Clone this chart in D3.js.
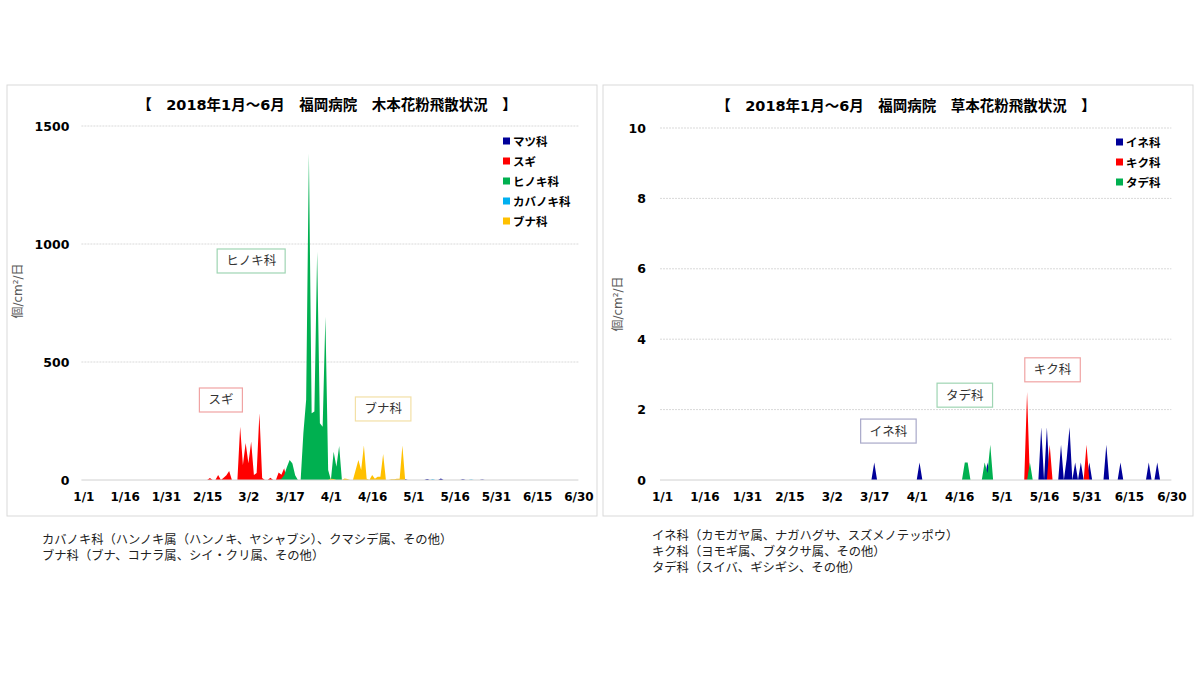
<!DOCTYPE html>
<html>
<head>
<meta charset="utf-8">
<script src="https://cdn.jsdelivr.net/npm/d3@7"></script>
<style>
  body { margin: 0; background: #fff; }
  text { font-family: "DejaVu Sans", "Noto Sans CJK JP", sans-serif; }
</style>
</head>
<body>
<svg id="chart" width="1200" height="675"></svg>
<script>
// ---- data (readings per day, days not listed are 0) ----
const tickLabels = ['1/1', '1/16', '1/31', '2/15', '3/2', '3/17', '4/1', '4/16', '5/1', '5/16', '5/31', '6/15', '6/30']

const woodyNames = ['マツ科', 'スギ', 'ヒノキ科', 'カバノキ科', 'ブナ科']
const woodyColors = ['#000099', '#ff0000', '#00b050', '#00b0f0', '#ffc000']
const woodyTicks = [0, 500, 1000, 1500]

const matsu = [['4/28', 3], ['5/6', 4], ['5/11', 6], ['5/19', 3], ['5/26', 2]]
const sugi = [['2/16', 8], ['2/19', 21], ['2/21', 10], ['2/22', 20], ['2/23', 38], ['2/27', 226], ['2/28', 64],
  ['3/1', 157], ['3/2', 71], ['3/3', 162], ['3/4', 21], ['3/5', 30], ['3/6', 283], ['3/7', 8], ['3/10', 10],
  ['3/13', 32], ['3/14', 22], ['3/15', 50]]
const hinoki = [['3/14', 5], ['3/15', 20], ['3/16', 55], ['3/17', 85], ['3/18', 70], ['3/19', 20],
  ['3/22', 200], ['3/23', 340], ['3/24', 1385], ['3/25', 283], ['3/26', 290], ['3/27', 967], ['3/28', 240],
  ['3/29', 226], ['3/30', 692], ['3/31', 42], ['4/2', 120], ['4/3', 56], ['4/4', 144]]
const kabanoki = [['5/8', 3], ['5/22', 2]]
const buna = [['4/1', 5], ['4/2', 4], ['4/6', 6], ['4/7', 4], ['4/10', 42], ['4/11', 85], ['4/12', 42], ['4/13', 146],
  ['4/14', 5], ['4/16', 21], ['4/17', 5], ['4/18', 14], ['4/19', 14], ['4/20', 110], ['4/23', 3], ['4/24', 3],
  ['4/25', 5], ['4/26', 5], ['4/27', 146]]

const herbNames = ['イネ科', 'キク科', 'タデ科']
const herbColors = ['#000099', '#ff0000', '#00b050']
const herbTicks = [0, 2, 4, 6, 8, 10]

const ine = [['3/17', 0.5], ['4/2', 0.5], ['4/26', 0.5], ['5/15', 1.5], ['5/17', 1.5], ['5/22', 1.0], ['5/24', 0.6],
  ['5/25', 1.5], ['5/27', 0.5], ['5/29', 0.5], ['6/1', 0.5], ['6/7', 1.0], ['6/12', 0.5], ['6/22', 0.5], ['6/25', 0.5]]
const kiku = [['5/10', 2.5], ['5/18', 1.0], ['5/31', 1.0]]
const tade = [['4/18', 0.5], ['4/19', 0.5], ['4/25', 0.5], ['4/26', 0.2], ['4/27', 1.0], ['5/11', 0.5]]

// callout labels: [text, date, value, border colour]
const woodyNotes = [['ヒノキ科', '3/3', 928, '#9fd5b3'], ['スギ', '2/20', 339, '#f0a3a3'], ['ブナ科', '4/20', 301, '#f3e0a6']]
const herbNotes = [['イネ科', '3/22', 1.39, '#a9a9c9'], ['タデ科', '4/18', 2.41, '#9fd5b3'], ['キク科', '5/19', 3.13, '#f0a3a3']]

const woodyTitle = '【　2018年1月～6月　福岡病院　木本花粉飛散状況　】'
const herbTitle = '【　2018年1月～6月　福岡病院　草本花粉飛散状況　】'
const woodyNotesText = ['カバノキ科（ハンノキ属（ハンノキ、ヤシャブシ）、クマシデ属、その他）', 'ブナ科（ブナ、コナラ属、シイ・クリ属、その他）']
const herbNotesText = ['イネ科（カモガヤ属、ナガハグサ、スズメノテッポウ）', 'キク科（ヨモギ属、ブタクサ属、その他）', 'タデ科（スイバ、ギシギシ、その他）']

// ---- helpers ----
const parse = s => d3.timeParse('%Y/%m/%d')('2018/' + s)
const start = parse('1/1')
const end = parse('6/30')
const days = d3.timeDay.range(start, d3.timeDay.offset(end, 1))

function fullSeries(pairs) {
	const m = new Map(pairs.map(p => [+parse(p[0]), p[1]]))
	return days.map(d => ({ date: d, v: m.get(+d) ?? 0 }))
}

const svg = d3.select('#chart')

function drawPanel(o) {
	// panel frame
	svg.append('rect')
		.attr('x', o.box[0]).attr('y', o.box[1])
		.attr('width', o.box[2]).attr('height', o.box[3])
		.attr('fill', '#fff').attr('stroke', '#d9d9d9')

	const x = d3.scaleTime().domain([start, end]).range([o.left, o.right])
	const y = d3.scaleLinear().domain([0, o.ticks[o.ticks.length - 1]]).range([o.bottom, o.top])

	// gridlines
	svg.append('g').selectAll('line')
		.data(o.ticks.slice(1))
		.join('line')
		.attr('x1', o.left - 2).attr('x2', o.right)
		.attr('y1', d => y(d)).attr('y2', d => y(d))
		.attr('stroke', '#d9d9d9').attr('stroke-dasharray', '2,1')

	// areas, drawn in series order
	const area = d3.area().x(d => x(d.date)).y0(y(0)).y1(d => y(d.v))
	o.series.forEach((s, i) => {
		svg.append('path')
			.datum(fullSeries(s))
			.attr('d', area)
			.attr('fill', o.colors[i])
	})

	// baseline
	svg.append('line')
		.attr('x1', o.left - 2).attr('x2', o.right)
		.attr('y1', y(0)).attr('y2', y(0))
		.attr('stroke', '#d0d0d0')

	// axes
	const xa = svg.append('g')
		.attr('transform', `translate(0,${y(0)})`)
		.call(d3.axisBottom(x).tickValues(tickLabels.map(parse)).tickFormat(d3.timeFormat('%-m/%-d')).tickSize(0).tickPadding(12))
	xa.select('.domain').remove()
	xa.selectAll('text').attr('font-size', 12).attr('font-weight', 'bold').attr('fill', '#000')
		.style('font-family', '"DejaVu Sans", sans-serif')

	const ya = svg.append('g')
		.attr('transform', `translate(${o.left},0)`)
		.call(d3.axisLeft(y).tickValues(o.ticks).tickFormat(d3.format('d')).tickSize(0).tickPadding(o.yPad))
	ya.select('.domain').remove()
	ya.selectAll('text').attr('font-size', 12.5).attr('font-weight', 'bold').attr('fill', '#000')
		.style('font-family', '"DejaVu Sans", sans-serif')

	// y title
	svg.append('text')
		.attr('transform', `translate(${o.yTitle[0]},${o.yTitle[1]}) rotate(-90)`)
		.attr('text-anchor', 'middle')
		.attr('font-size', 12).attr('fill', '#595959')
		.text('個/cm²/日')

	// title
	svg.append('text')
		.attr('x', o.titlePos[0]).attr('y', o.titlePos[1])
		.attr('text-anchor', 'middle')
		.attr('font-size', 14.5).attr('font-weight', 'bold')
		.text(o.title)

	// legend
	const lg = svg.append('g').attr('transform', `translate(${o.legend[0]},${o.legend[1]})`)
	o.names.forEach((n, i) => {
		lg.append('rect').attr('x', 0).attr('y', i * 20 - 3.5).attr('width', 7).attr('height', 7).attr('fill', o.colors[i])
		lg.append('text').attr('x', 10).attr('y', i * 20 + 4.5)
			.attr('font-size', 11.5).attr('font-weight', 'bold')
			.style('font-family', '"Noto Sans CJK JP", sans-serif')
			.text(n)
	})

	// callouts
	o.notes.forEach(([t, dt, v, c]) => {
		const cx = x(parse(dt)), cy = y(v)
		const w = t.length * 12.5 + 18
		svg.append('rect')
			.attr('x', cx - w / 2).attr('y', cy - 12)
			.attr('width', w).attr('height', 24)
			.attr('fill', '#fff').attr('stroke', c).attr('stroke-width', 1.2)
		svg.append('text')
			.attr('x', cx).attr('y', cy + 4.5)
			.attr('text-anchor', 'middle')
			.attr('font-size', 12.5).attr('fill', '#333')
			.style('font-family', '"Noto Sans CJK JP", sans-serif')
			.text(t)
	})

	// notes under the panel
	o.captions.forEach((t, i) => {
		svg.append('text')
			.attr('x', o.capPos[0]).attr('y', o.capPos[1] + i * 16)
			.attr('font-size', 12.3).attr('fill', '#222')
			.style('font-family', '"Noto Sans CJK JP", sans-serif')
			.text(t)
	})
}

drawPanel({
	box: [7, 85, 590, 431],
	left: 83.4, right: 578.4, top: 126, bottom: 480,
	ticks: woodyTicks, yPad: 14,
	series: [matsu, sugi, hinoki, kabanoki, buna],
	names: woodyNames, colors: woodyColors,
	yTitle: [22, 291], titlePos: [327, 110],
	legend: [503, 141],
	notes: woodyNotes,
	captions: woodyNotesText, capPos: [42, 544],
	title: woodyTitle
})

drawPanel({
	box: [603, 85, 590, 431],
	left: 662, right: 1171.4, top: 128, bottom: 480,
	ticks: herbTicks, yPad: 16,
	series: [ine, kiku, tade],
	names: herbNames, colors: herbColors,
	yTitle: [622, 304], titlePos: [906, 111],
	legend: [1116, 142],
	notes: herbNotes,
	captions: herbNotesText, capPos: [652, 540],
	title: herbTitle
})
</script>
</body>
</html>
